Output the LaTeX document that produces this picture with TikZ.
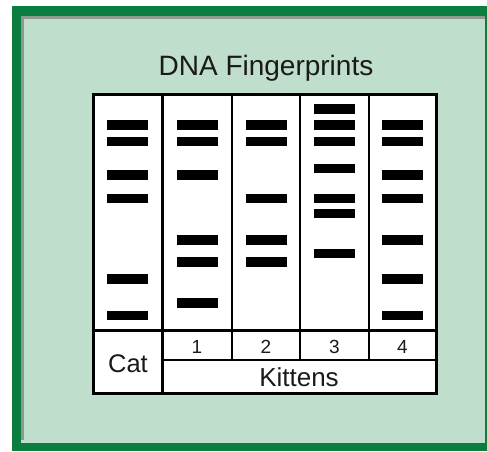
\documentclass[tikz,border=0pt]{standalone}
\usepackage{fontspec}
\setmainfont{Liberation Sans}
\definecolor{framegreen}{HTML}{0B7D3E}
\definecolor{panelgreen}{HTML}{C0DECC}
\definecolor{shadowgray}{HTML}{8A9A90}
\definecolor{inkgray}{HTML}{1A1A1A}
\tikzset{
  bandbar/.style={fill=black, draw=none, minimum width=41pt, minimum height=9.5pt, inner sep=0pt, outer sep=0pt},
  thickrule/.style={line width=3pt, draw=black},
  thinrule/.style={line width=1.5pt, draw=black},
  labeltext/.style={text=inkgray, inner sep=0pt, anchor=base},
}
\begin{document}
\begin{tikzpicture}[x=1pt, y=-1pt]
\useasboundingbox (0,0) rectangle (487,451);
% frame
\fill[framegreen] (12,6) rectangle (487,451);
\fill[panelgreen] (21,16) rectangle (485,443);
\fill[shadowgray] (21,16) rectangle (485,19);
\fill[shadowgray] (21,16) rectangle (24,440);
% title
\node[labeltext, font=\fontsize{28}{30}\selectfont] (title) at (266,75) {DNA Fingerprints};
% table background
\fill[white] (93,94) rectangle (436,393);
% bands
\foreach \y [count=\i] in {125,141.7,175,198.3,279,315.7}
  \node[bandbar] (cat-\i) at (127.5,\y) {};
\foreach \y [count=\i] in {125,141.7,175,240,262,303}
  \node[bandbar] (ka-\i) at (197,\y) {};
\foreach \y [count=\i] in {125,141.7,198.3,240,262}
  \node[bandbar] (kb-\i) at (266,\y) {};
\foreach \y [count=\i] in {109,125,141.7,168.3,198.3,213.3,253.3}
  \node[bandbar] (kc-\i) at (334.5,\y) {};
\foreach \y [count=\i] in {125,141.7,175,198.3,240,279,315.7}
  \node[bandbar] (kd-\i) at (402.5,\y) {};
% grid
\draw[thinrule] (232,94) -- (232,360);
\draw[thinrule] (300,94) -- (300,360);
\draw[thinrule] (369,94) -- (369,360);
\draw[thinrule] (162,360) -- (436,360);
\draw[thickrule] (93,330) -- (436,330);
\draw[thickrule] (162,94) -- (162,393);
\draw[thickrule] (93,94) rectangle (436,393);
% labels
\node[labeltext, font=\fontsize{25.5}{27}\selectfont] (cat) at (128,372.5) {Cat};
\node[labeltext, font=\fontsize{19}{21}\selectfont] (n1) at (197,353) {1};
\node[labeltext, font=\fontsize{19}{21}\selectfont] (n2) at (266,353) {2};
\node[labeltext, font=\fontsize{19}{21}\selectfont] (n3) at (334.5,353) {3};
\node[labeltext, font=\fontsize{19}{21}\selectfont] (n4) at (402.5,353) {4};
\node[labeltext, font=\fontsize{26}{28}\selectfont] (kittens) at (299,386) {Kittens};
\end{tikzpicture}
\end{document}
